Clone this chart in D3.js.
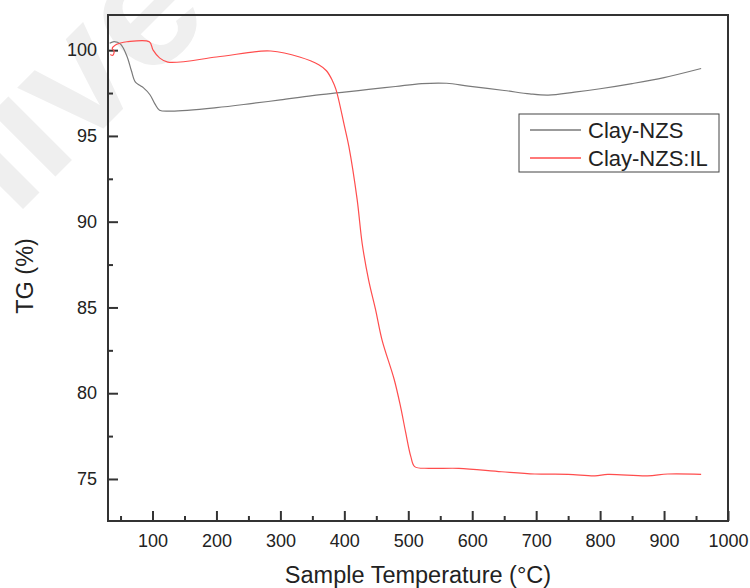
<!DOCTYPE html>
<html>
<head>
<meta charset="utf-8">
<script src="https://cdn.jsdelivr.net/npm/d3@7"></script>
<style>
    body { margin: 0; background: #fff; }
    svg { display: block; font-family: "Liberation Sans", Arial, sans-serif; }
</style>
</head>
<body>
<div id="chart"></div>
<script>
"use strict";

// temperature (°C), TG (%)
const clayNzs = [
    [33, 100.4], [40, 100.5], [50, 100.35], [60, 99.65], [67, 98.8],
    [73, 98.15], [80, 97.95], [86, 97.8], [96, 97.4], [104, 96.85],
    [111, 96.5], [130, 96.45], [200, 96.65], [257, 96.9], [300, 97.1],
    [350, 97.35], [400, 97.55], [438, 97.71], [480, 97.88], [521, 98.05],
    [560, 98.07], [594, 97.9], [650, 97.65], [690, 97.45], [719, 97.38],
    [760, 97.55], [800, 97.75], [850, 98.05], [900, 98.4], [958, 98.93]
];
const clayNzsIl = [
    [34, 99.75], [38, 99.7], [40, 99.95], [37, 100.1], [42, 100.3],
    [50, 100.42], [60, 100.49], [95, 100.49], [101, 100.0], [111, 99.55],
    [124, 99.3], [200, 99.6], [266, 99.93], [285, 99.95], [330, 99.6],
    [360, 99.15], [372, 98.8], [381, 98.25], [387, 97.7], [400, 95.6],
    [407, 94.4], [420, 91.3], [428, 88.7], [438, 86.6], [449, 84.85],
    [459, 83.1], [478, 80.8], [488, 79.2], [496, 77.7], [504, 76.3],
    [510, 75.72], [532, 75.62], [579, 75.62], [646, 75.42], [698, 75.29],
    [750, 75.27], [792, 75.18], [812, 75.27], [874, 75.18], [906, 75.29],
    [958, 75.27]
];
const seriesNames = ["Clay-NZS", "Clay-NZS:IL"];
const seriesColors = ["#7a7a7a", "#ff4d4d"];
const xMajorTicks = [100, 200, 300, 400, 500, 600, 700, 800, 900, 1000];
const xMinorTicks = [50, 150, 250, 350, 450, 550, 650, 750, 850, 950];
const yMajorTicks = [75, 80, 85, 90, 95, 100];
const yMinorTicks = [77.5, 82.5, 87.5, 92.5, 97.5];

const width = 750;
const height = 588;
const margin = { top: 15, right: 22, bottom: 67, left: 108 };
const innerW = width - margin.left - margin.right;
const innerH = height - margin.top - margin.bottom;

const svg = d3.select("#chart").append("svg")
    .attr("width", width)
    .attr("height", height);

// faint watermark behind the plot, only its tail is on the page
svg.append("text")
    .attr("transform", "translate(214,18) rotate(-45)")
    .attr("text-anchor", "end")
    .attr("font-size", 170)
    .attr("font-weight", "bold")
    .attr("fill", "#efefef")
    .text("Archive");

const x = d3.scaleLinear().domain([30.4, 1000]).range([0, innerW]);
const y = d3.scaleLinear().domain([72.55, 102.05]).range([innerH, 0]);

const g = svg.append("g")
    .attr("transform", `translate(${margin.left},${margin.top})`);

g.append("rect")
    .attr("width", innerW)
    .attr("height", innerH)
    .attr("fill", "none")
    .attr("stroke", "#333")
    .attr("stroke-width", 2);

// ticks point inward
const styleAxis = (sel) => {
    sel.select(".domain").remove();
    sel.selectAll(".tick line").attr("stroke", "#333").attr("stroke-width", 2);
    sel.selectAll("text").attr("fill", "#222").attr("font-size", 18);
};

g.append("g")
    .attr("transform", `translate(0,${innerH})`)
    .call(d3.axisBottom(x).tickValues(xMajorTicks).tickSize(-10).tickPadding(13)
        .tickFormat(d3.format("d")))
    .call(styleAxis);
g.append("g")
    .attr("transform", `translate(0,${innerH})`)
    .call(d3.axisBottom(x).tickValues(xMinorTicks).tickSize(-5).tickFormat(""))
    .call(styleAxis);
g.append("g")
    .call(d3.axisLeft(y).tickValues(yMajorTicks).tickSize(-10).tickPadding(11)
        .tickFormat(d3.format("d")))
    .call(styleAxis);
g.append("g")
    .call(d3.axisLeft(y).tickValues(yMinorTicks).tickSize(-5).tickFormat(""))
    .call(styleAxis);

const line = d3.line()
    .x((d) => x(d[0]))
    .y((d) => y(d[1]))
    .curve(d3.curveCatmullRom.alpha(0.5));

[clayNzs, clayNzsIl].forEach((s, i) => {
    g.append("path")
        .datum(s)
        .attr("fill", "none")
        .attr("stroke", seriesColors[i])
        .attr("stroke-width", 1.2)
        .attr("d", line);
});

// axis titles
svg.append("text")
    .attr("x", margin.left + innerW / 2)
    .attr("y", 583)
    .attr("text-anchor", "middle")
    .attr("font-size", 23.5)
    .attr("fill", "#222")
    .text("Sample Temperature (°C)");
svg.append("text")
    .attr("transform", "translate(33,276) rotate(-90)")
    .attr("text-anchor", "middle")
    .attr("font-size", 23.5)
    .attr("fill", "#222")
    .text("TG (%)");

// legend
const legend = svg.append("g").attr("transform", "translate(519,114)");
legend.append("rect")
    .attr("width", 200)
    .attr("height", 58)
    .attr("fill", "#fff")
    .attr("stroke", "#444")
    .attr("stroke-width", 1);
seriesNames.forEach((name, i) => {
    const row = legend.append("g").attr("transform", `translate(0,${16 + i * 28})`);
    row.append("line")
        .attr("x1", 11).attr("x2", 62)
        .attr("stroke", seriesColors[i])
        .attr("stroke-width", 1.5);
    row.append("text")
        .attr("x", 69)
        .attr("y", 8)
        .attr("font-size", 22)
        .attr("fill", "#222")
        .text(name);
});
</script>
</body>
</html>
